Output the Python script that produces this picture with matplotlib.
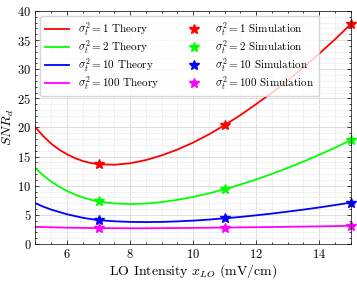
import matplotlib
matplotlib.use("Agg")
import matplotlib.pyplot as plt
from matplotlib.ticker import MultipleLocator

plt.rcParams['font.family'] = 'serif'
plt.rcParams['font.serif'] = ['cmr10']
plt.rcParams['mathtext.fontset'] = 'cm'
plt.rcParams['axes.formatter.use_mathtext'] = True
plt.rcParams['font.size'] = 9

# theory curves
x_theory = [5, 5.25, 5.5, 5.75, 6, 6.25, 6.5, 6.75, 7, 7.5, 8, 8.5, 9, 9.5,
            10, 10.5, 11, 11.5, 12, 12.5, 13, 13.5, 14, 14.5, 15]
snr_1 = [20.0, 18.5, 17.2, 16.2, 15.4, 14.75, 14.25, 13.9, 13.7, 13.6, 13.85,
         14.4, 15.2, 16.2, 17.4, 18.8, 20.4, 22.1, 24.0, 25.95, 28.05, 30.3,
         32.65, 35.1, 37.7]
snr_2 = [13.0, 11.75, 10.7, 9.85, 9.1, 8.5, 8.0, 7.6, 7.3, 6.96, 6.85, 6.94,
         7.19, 7.58, 8.07, 8.69, 9.39, 10.2, 11.07, 12.02, 13.05, 14.14, 15.3,
         16.5, 17.8]
snr_10 = [7.0, 6.4, 5.9, 5.5, 5.1, 4.8, 4.5, 4.28, 4.1, 3.9, 3.79, 3.76, 3.79,
          3.88, 4.01, 4.19, 4.4, 4.64, 4.92, 5.22, 5.55, 5.9, 6.27, 6.68, 7.09]
snr_100 = [2.95, 2.91, 2.87, 2.83, 2.8, 2.78, 2.76, 2.74, 2.73, 2.71, 2.7,
           2.7, 2.72, 2.74, 2.76, 2.79, 2.82, 2.85, 2.88, 2.91, 2.95, 2.99,
           3.03, 3.07, 3.12]

# simulation points
x_sim = [7, 11, 15]
sim_1 = [13.7, 20.4, 37.7]
sim_2 = [7.3, 9.4, 17.8]
sim_10 = [4.2, 4.45, 7.1]
sim_100 = [2.7, 2.75, 3.1]

labels = ['1', '2', '10', '100']
colors = ['red', 'lime', 'blue', 'magenta']
theory = [snr_1, snr_2, snr_10, snr_100]
sims = [sim_1, sim_2, sim_10, sim_100]

fig = plt.figure(figsize=(3.57, 2.81), dpi=100)
ax = fig.add_axes([0.0994, 0.1317, 0.8826, 0.8293])

for lab, c, y in zip(labels, colors, theory):
    ax.plot(x_theory, y, color=c, linewidth=1.3,
            label=r'$\sigma_t^2 = %s$ Theory' % lab)
for lab, c, y in zip(labels, colors, sims):
    ax.plot(x_sim, y, linestyle='none', marker='*', markersize=7, color=c,
            label=r'$\sigma_t^2 = %s$ Simulation' % lab, clip_on=False)

ax.set_xlim(5, 15)
ax.set_ylim(0, 40)
ax.xaxis.set_major_locator(MultipleLocator(2))
ax.xaxis.set_minor_locator(MultipleLocator(0.5))
ax.yaxis.set_major_locator(MultipleLocator(5))
ax.yaxis.set_minor_locator(MultipleLocator(1))
ax.tick_params(which='both', direction='in', top=True, right=True)
ax.tick_params(which='major', length=3, width=0.5, pad=3)
ax.tick_params(which='minor', length=1.5, width=0.5)
for s in ax.spines.values():
    s.set_linewidth(0.5)

ax.grid(True, which='major', color='#d9d9d9', linewidth=0.6)
ax.grid(True, which='minor', color='#ececec', linewidth=0.5)

ax.set_xlabel(r'LO Intensity $x_{LO}$ (mV/cm)', fontsize=10, labelpad=1)
ax.set_ylabel(r'$SNR_d$', fontsize=10, labelpad=1)

ax.legend(ncol=2, loc='upper left', fontsize=8, frameon=True,
          handlelength=2.2, handletextpad=0.8, columnspacing=2.0,
          labelspacing=0.05, borderaxespad=0.45, borderpad=0.4)

plt.savefig('out.png', dpi=100)
